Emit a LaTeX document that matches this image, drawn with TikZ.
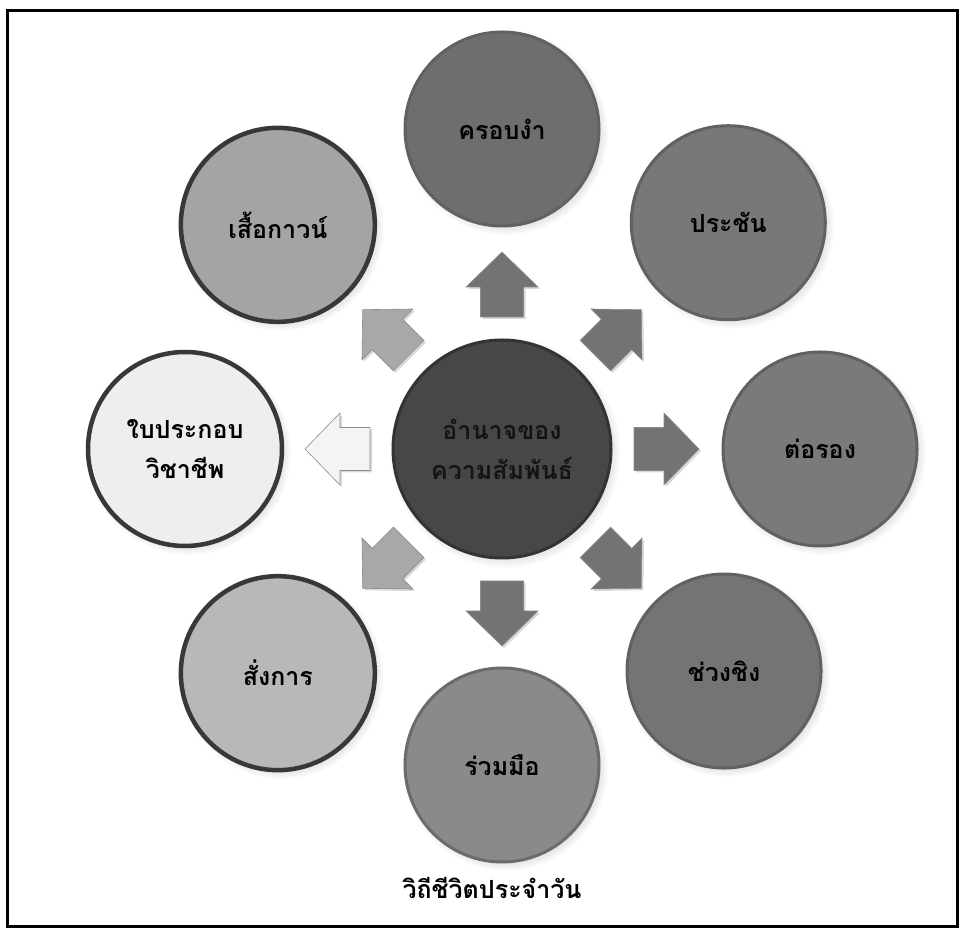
\documentclass[tikz,border=0pt]{standalone}
\usepackage{fontspec}
\newfontfamily\thaifont[Script=Thai]{Loma}
\usetikzlibrary{calc,shadows}
\definecolor{cTop}{HTML}{6E6E6E}
\definecolor{cTR}{HTML}{787878}
\definecolor{cR}{HTML}{7A7A7A}
\definecolor{cBR}{HTML}{747474}
\definecolor{cB}{HTML}{8A8A8A}
\definecolor{cBL}{HTML}{B8B8B8}
\definecolor{cL}{HTML}{EEEEEE}
\definecolor{cTL}{HTML}{A4A4A4}
\definecolor{cCen}{HTML}{474747}
\definecolor{arDark}{HTML}{737373}
\definecolor{arLight}{HTML}{A8A8A8}
\definecolor{arWhite}{HTML}{F4F4F4}
\newcommand{\blockarrow}[3]{%
  \path[#3, shift={(C)}, rotate=#1] (132,-21.5) -- (162,-21.5) -- (162,-36) -- (197,0)
     -- (162,36) -- (162,21.5) -- (132,21.5) -- cycle;}
\begin{document}
\begin{tikzpicture}[x=1pt,y=1pt,
  sat/.style={circle, minimum size=194pt, inner sep=0pt, align=center,
    font=\thaifont\bfseries\fontsize{25}{40}\selectfont, text=black,
    circular drop shadow={shadow xshift=3pt, shadow yshift=-3pt, shadow scale=1.06, opacity=.35}},
  darkrim/.style={draw=#1, line width=3pt},
  ring/.style={draw=black!78, line width=4.5pt},
  arr/.style={fill=#1, draw=black!45, line width=0.6pt,
    drop shadow={shadow xshift=2pt, shadow yshift=-2pt, opacity=.3}},
  caption/.style={font=\thaifont\bfseries\fontsize{25}{28}\selectfont}]
\useasboundingbox (0,0) rectangle (965,934);
\draw[line width=3pt] (7,8) rectangle (957,923);
\coordinate (C) at (502,485);
% arrows
\blockarrow{90}{0}{arr=arDark}
\blockarrow{45}{0}{arr=arDark}
\blockarrow{0}{0}{arr=arDark}
\blockarrow{-45}{0}{arr=arDark}
\blockarrow{-90}{0}{arr=arDark}
\blockarrow{-135}{0}{arr=arLight}
\blockarrow{180}{0}{arr=arWhite}
\blockarrow{135}{0}{arr=arLight}
% center
\node[sat, minimum size=218pt, fill=cCen, darkrim=black!80, text=black!92] (cen) at (C)
  {อำนาจของ\\ความสัมพันธ์};
% satellites
\node[sat, fill=cTop, darkrim=black!62] (top) at ($(C)+(90:320)$) {ครอบงำ};
\node[sat, fill=cTR, darkrim=black!62] (tr) at ($(C)+(45:320)$) {ประชัน};
\node[sat, fill=cR, darkrim=black!62] (r) at ($(C)+(0:318)$) {ต่อรอง};
\node[sat, fill=cBR, darkrim=black!62] (br) at ($(C)+(-45:314)$) {ช่วงชิง};
\node[sat, fill=cB, darkrim=black!58] (b) at ($(C)+(-90:316)$) {ร่วมมือ};
\node[sat, fill=cBL, ring] (bl) at ($(C)+(-135:317)$) {สั่งการ};
\node[sat, fill=cL, ring] (l) at ($(C)+(180:317)$) {ใบประกอบ\\วิชาชีพ};
\node[sat, fill=cTL, ring] (tl) at ($(C)+(135:317)$) {เสื้อกาวน์};
% caption
\node[caption] (cap) at (492,46) {วิถีชีวิตประจำวัน};
\end{tikzpicture}
\end{document}
